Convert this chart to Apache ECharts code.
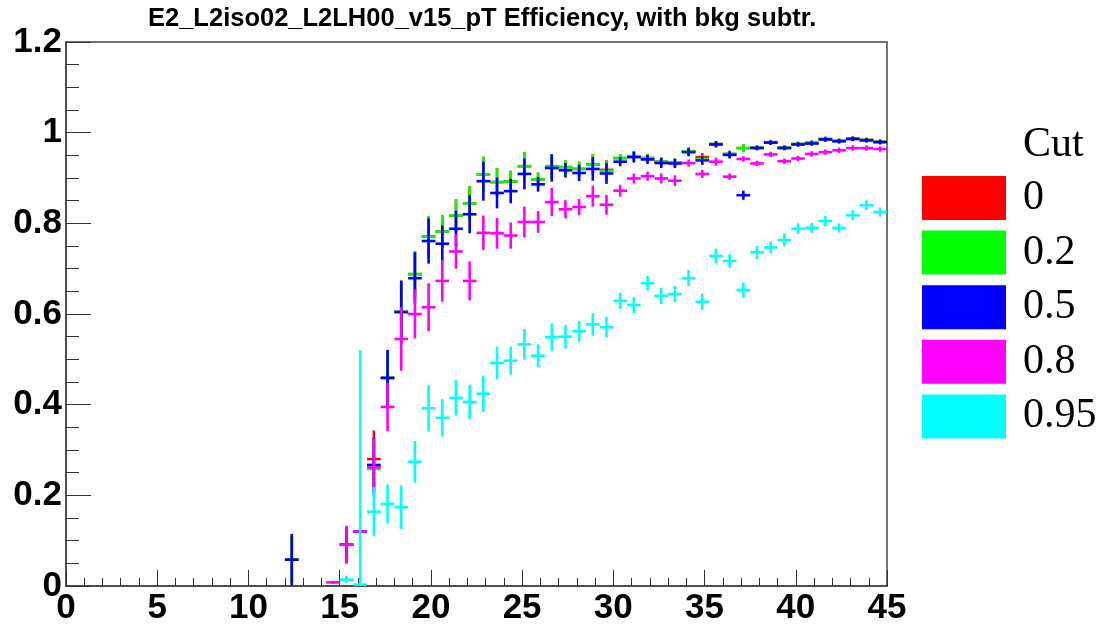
<!DOCTYPE html>
<html>
<head>
<meta charset="utf-8">
<script src="https://cdn.jsdelivr.net/npm/echarts@6/dist/echarts.min.js"></script>
<style>
html,body{margin:0;padding:0;background:#fff;}
#chart{width:1106px;height:626px;}
</style>
</head>
<body>
<div id="chart"></div>
<script>
// Bin centres (pT, bins of 0.75 GeV)
var binCenters = [12.375,13.125,13.875,14.625,15.375,16.125,16.875,17.625,18.375,19.125,19.875,20.625,21.375,22.125,22.875,23.625,24.375,25.125,25.875,26.625,27.375,28.125,28.875,29.625,30.375,31.125,31.875,32.625,33.375,34.125,34.875,35.625,36.375,37.125,37.875,38.625,39.375,40.125,40.875,41.625,42.375,43.125,43.875,44.625];
var binHalfWidth = 0.375;

var cutNames = ['0','0.2','0.5','0.8','0.95'];

var effCut0   = [0.058,null,null,null,0.091,0.120,0.280,0.459,0.606,0.688,0.771,0.782,0.817,0.844,0.908,0.891,0.892,0.926,0.897,0.926,0.924,0.920,0.930,0.918,0.944,0.948,0.944,0.936,0.934,0.959,0.946,0.975,0.953,0.966,0.967,0.979,0.967,0.975,0.978,0.986,0.982,0.987,0.984,0.980];
var errCut0   = [0.052,null,null,null,0.036,0.004,0.063,0.056,0.063,0.051,0.045,0.036,0.036,0.038,0.039,0.031,0.024,0.031,0.015,0.027,0.015,0.016,0.023,0.021,0.009,0.011,0.009,0.010,0.009,0.008,0.009,0.006,0.007,0.009,0.005,0.005,0.005,0.005,0.005,0.005,0.005,0.005,0.005,0.005];
var effCut02  = [0.058,null,null,null,0.091,0.120,0.258,0.459,0.606,0.688,0.771,0.782,0.817,0.844,0.908,0.891,0.892,0.926,0.897,0.926,0.924,0.920,0.930,0.916,0.944,0.948,0.944,0.936,0.934,0.959,0.942,0.975,0.953,0.966,0.967,0.979,0.967,0.975,0.978,0.986,0.982,0.987,0.984,0.980];
var errCut02  = [0.052,null,null,null,0.036,0.004,0.054,0.056,0.063,0.051,0.045,0.036,0.036,0.038,0.039,0.031,0.024,0.031,0.015,0.027,0.015,0.016,0.023,0.021,0.009,0.011,0.009,0.010,0.009,0.008,0.009,0.006,0.007,0.009,0.005,0.005,0.005,0.005,0.005,0.005,0.005,0.005,0.005,0.005];
var effCut05  = [0.058,null,null,null,0.091,0.120,0.267,0.459,0.604,0.679,0.761,0.755,0.788,0.820,0.893,0.867,0.871,0.909,0.886,0.922,0.917,0.911,0.920,0.910,0.936,0.946,0.941,0.933,0.932,0.957,0.939,0.974,0.951,0.862,0.966,0.978,0.966,0.974,0.976,0.985,0.981,0.986,0.983,0.979];
var errCut05  = [0.057,null,null,null,0.040,0.004,0.060,0.062,0.070,0.057,0.050,0.040,0.040,0.042,0.043,0.034,0.027,0.034,0.016,0.030,0.016,0.018,0.026,0.023,0.010,0.012,0.010,0.011,0.010,0.009,0.010,0.007,0.008,0.010,0.005,0.005,0.005,0.005,0.005,0.005,0.005,0.005,0.005,0.005];
var effCut08  = [null,null,null,0.008,0.091,0.120,0.262,0.395,0.545,0.600,0.615,0.673,0.738,0.673,0.779,0.778,0.773,0.803,0.803,0.847,0.831,0.836,0.860,0.841,0.872,0.899,0.904,0.899,0.894,0.933,0.909,0.936,0.903,0.942,0.932,0.952,0.937,0.943,0.953,0.957,0.961,0.966,0.966,0.964];
var errCut08  = [null,null,null,0.003,0.042,0.004,0.063,0.053,0.070,0.054,0.053,0.046,0.038,0.043,0.038,0.034,0.029,0.034,0.024,0.031,0.020,0.018,0.023,0.022,0.013,0.011,0.010,0.011,0.012,0.008,0.009,0.009,0.007,0.006,0.006,0.006,0.006,0.006,0.006,0.006,0.006,0.006,0.006,0.006];
var effCut095 = [null,null,null,null,0.014,0.003,0.164,0.181,0.174,0.274,0.392,0.371,0.415,0.406,0.424,0.492,0.497,0.533,0.508,0.549,0.550,0.562,0.577,0.571,0.629,0.620,0.668,0.640,0.644,0.679,0.627,0.728,0.717,0.653,0.736,0.747,0.763,0.788,0.790,0.805,0.790,0.818,0.840,0.825];
var errCut095 = [null,null,null,null,0.008,0.517,0.054,0.043,0.048,0.046,0.051,0.041,0.039,0.038,0.040,0.036,0.031,0.034,0.025,0.030,0.026,0.023,0.025,0.023,0.018,0.018,0.016,0.018,0.018,0.018,0.018,0.016,0.015,0.016,0.015,0.013,0.014,0.012,0.011,0.012,0.010,0.011,0.011,0.010];

var xTicks = [0,5,10,15,20,25,30,35,40,45];
var yTicks = [0,0.2,0.4,0.6,0.8,1,1.2];

var seriesValues = [effCut0, effCut02, effCut05, effCut08, effCut095];
var seriesErrors = [errCut0, errCut02, errCut05, errCut08, errCut095];
var colors = ['#ff0000','#00ff00','#0000ff','#ff00ff','#00ffff'];

function buildData(vals, errs){
  var out = [];
  for (var i=0;i<binCenters.length;i++){
    if (vals[i] === null || vals[i] === undefined) continue;
    out.push([binCenters[i], vals[i], errs[i] || 0]);
  }
  return out;
}

function renderCross(params, api){
  var x = api.value(0), y = api.value(1), e = api.value(2);
  var lo = Math.max(0, y - e), hi = y + e;
  var pLo = api.coord([x, lo]);
  var pHi = api.coord([x, hi]);
  var pL = api.coord([x - binHalfWidth, y]);
  var pR = api.coord([x + binHalfWidth, y]);
  var color = api.style().fill;
  return {
    type: 'group',
    children: [
      {type:'line', shape:{x1:pLo[0], y1:pLo[1], x2:pHi[0], y2:pHi[1]}, style:{stroke:color, lineWidth:2.6}},
      {type:'line', shape:{x1:pL[0], y1:pL[1], x2:pR[0], y2:pR[1]}, style:{stroke:color, lineWidth:2.6}}
    ]
  };
}

var series = cutNames.map(function(name, k){
  return {
    name: name,
    type: 'custom',
    renderItem: renderCross,
    clip: true,
    itemStyle: {color: colors[k]},
    encode: {x:0, y:1},
    data: buildData(seriesValues[k], seriesErrors[k]),
    z: 2 + k
  };
});

var chart = echarts.init(document.getElementById('chart'), null, {renderer:'canvas'});
chart.setOption({
  animation: false,
  backgroundColor: '#ffffff',
  title: {
    text: 'E2_L2iso02_L2LH00_v15_pT Efficiency, with bkg subtr.',
    left: 148, top: 6, padding: 0,
    textStyle: {fontFamily: '"Liberation Sans", Arial, sans-serif', fontWeight: 'bold', fontSize: 25.5, color: '#000'}
  },
  legend: {
    orient: 'vertical',
    left: 922, top: 176, padding: 0,
    itemWidth: 84, itemHeight: 44, itemGap: 10.6,
    icon: 'rect',
    selectedMode: false,
    data: cutNames,
    textStyle: {fontFamily: '"Liberation Serif", "Times New Roman", serif', fontSize: 42, color: '#000', lineHeight: 44, padding: [0,0,0,12]}
  },
  graphic: [{
    type: 'text', left: 1023, top: 124,
    style: {text: 'Cut', font: '42px "Liberation Serif", "Times New Roman", serif', fill: '#000'}
  }],
  grid: {left: 66, right: 219, top: 42, bottom: 38, show: true, borderColor: '#444', borderWidth: 1.5, backgroundColor: 'transparent'},
  xAxis: {
    type: 'value', min: 0, max: 45, interval: 5,
    axisLine: {show: true, lineStyle: {color: '#444', width: 1.5}},
    axisTick: {show: true, inside: true, length: 16, lineStyle: {color: '#333', width: 1}},
    minorTick: {show: true, splitNumber: 5, length: 8, lineStyle: {color: '#333', width: 1}},
    splitLine: {show: false},
    axisLabel: {fontFamily: '"Liberation Sans", Arial, sans-serif', fontWeight: 'bold', fontSize: 35, color: '#000', margin: 5,
      formatter: function(v){ return xTicks.indexOf(v) >= 0 ? String(v) : ''; }}
  },
  yAxis: {
    type: 'value', min: 0, max: 1.2, interval: 0.2,
    axisLine: {show: true, lineStyle: {color: '#444', width: 1.5}},
    axisTick: {show: true, inside: true, length: 25, lineStyle: {color: '#333', width: 1}},
    minorTick: {show: true, splitNumber: 4, length: 13, lineStyle: {color: '#333', width: 1}},
    splitLine: {show: false},
    axisLabel: {fontFamily: '"Liberation Sans", Arial, sans-serif', fontWeight: 'bold', fontSize: 35, color: '#000', margin: 4,
      formatter: function(v){
        for (var i=0;i<yTicks.length;i++){ if (Math.abs(yTicks[i]-v) < 1e-9) return String(yTicks[i]); }
        return '';
      }}
  },
  series: series
});
</script>
</body>
</html>
